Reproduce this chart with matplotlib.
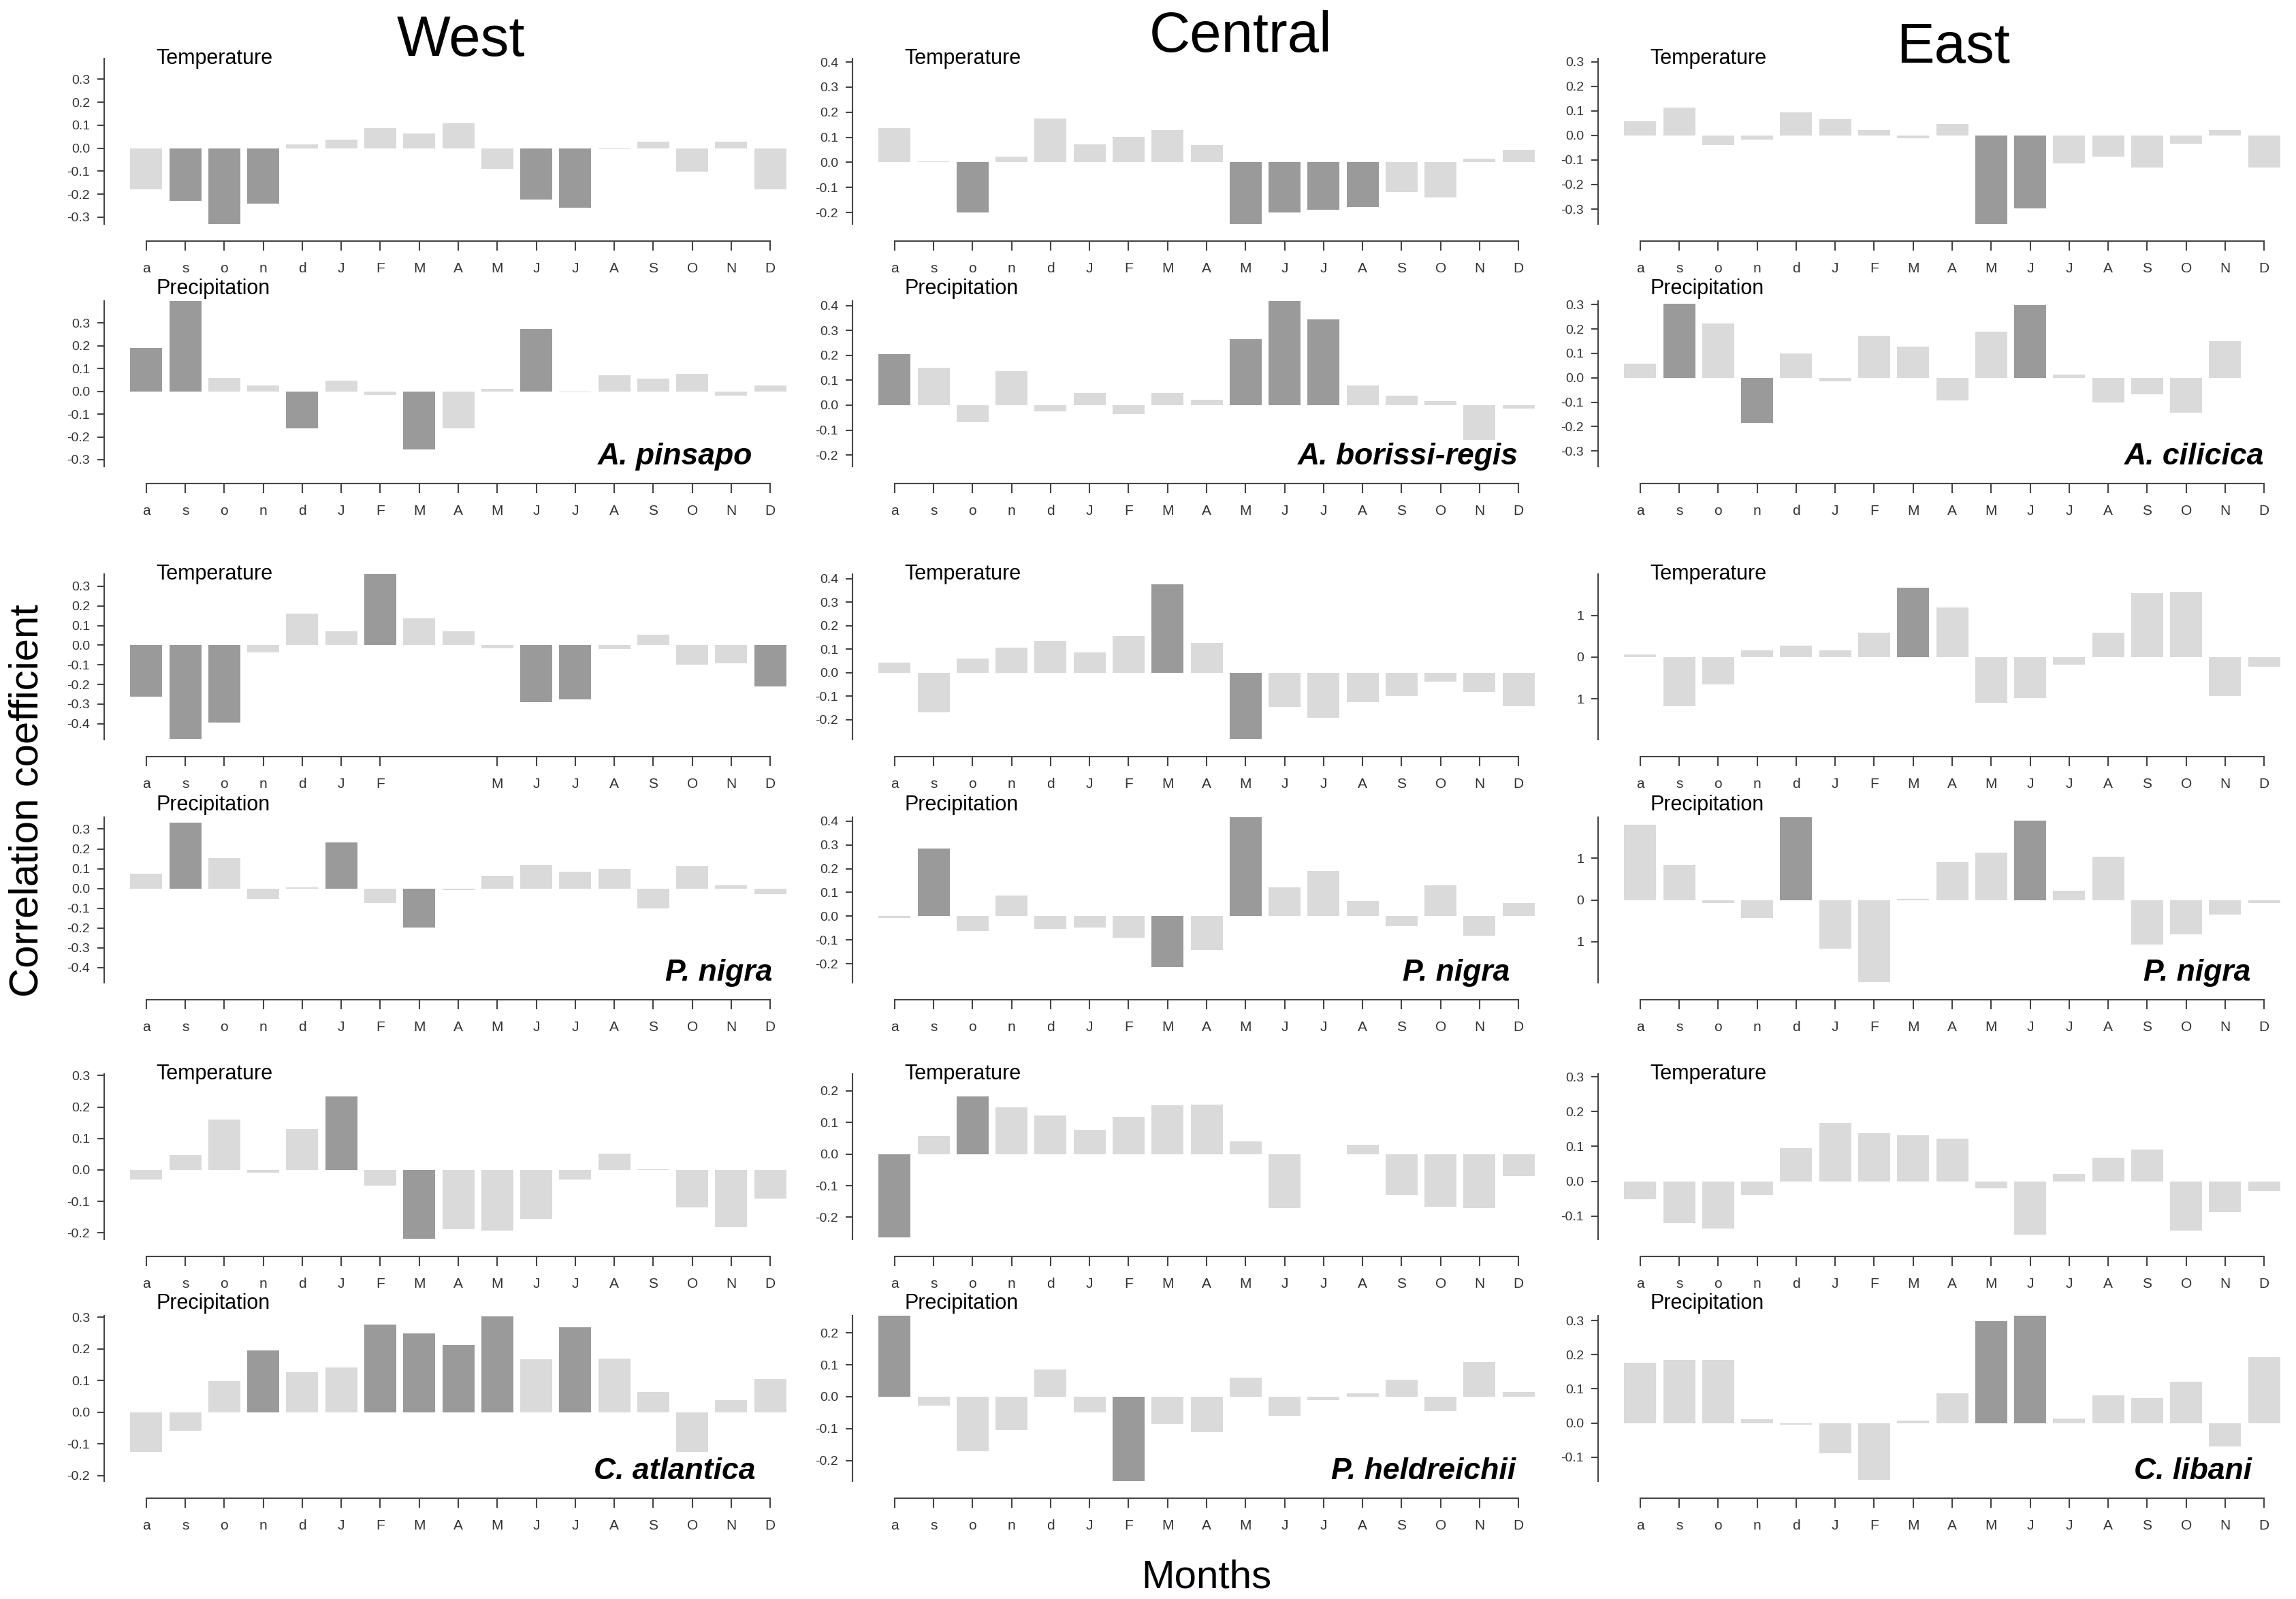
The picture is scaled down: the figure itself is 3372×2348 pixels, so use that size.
import matplotlib.pyplot as plt
import numpy as np

plt.rcParams['font.family'] = ['Liberation Sans', 'DejaVu Sans']
plt.rcParams['axes.unicode_minus'] = False

months = ['a', 's', 'o', 'n', 'd', 'J', 'F', 'M', 'A', 'M', 'J', 'J', 'A', 'S', 'O', 'N', 'D']
regions = ['West', 'Central', 'East']

# West
pinsapo_temp = [-0.18, -0.23, -0.33, -0.24, 0.017, 0.037, 0.089, 0.064, 0.11, -0.089, -0.223, -0.26, -0.005, 0.029, -0.102, 0.029, -0.179]
pinsapo_prec = [0.192, 0.41, 0.058, 0.026, -0.161, 0.046, -0.015, -0.256, -0.161, 0.011, 0.274, -0.005, 0.07, 0.055, 0.078, -0.02, 0.026]
nigra_w_temp = [-0.264, -0.476, -0.393, -0.036, 0.16, 0.07, 0.37, 0.136, 0.07, -0.015, -0.289, -0.277, -0.02, 0.053, -0.1, -0.092, -0.209]
nigra_w_prec = [0.073, 0.332, 0.153, -0.054, 0.005, 0.234, -0.073, -0.197, -0.008, 0.063, 0.119, 0.085, 0.098, -0.1, 0.114, 0.015, -0.03]
atlantica_temp = [-0.03, 0.048, 0.161, -0.008, 0.129, 0.234, -0.051, -0.219, -0.188, -0.193, -0.156, -0.03, 0.051, 0.003, -0.12, -0.182, -0.092]
atlantica_prec = [-0.125, -0.059, 0.098, 0.195, 0.127, 0.142, 0.277, 0.248, 0.213, 0.302, 0.167, 0.268, 0.17, 0.064, -0.125, 0.038, 0.105]

# Central
borissi_temp = [0.136, 0.004, -0.201, 0.023, 0.175, 0.073, 0.103, 0.129, 0.07, -0.247, -0.199, -0.19, -0.177, -0.118, -0.14, 0.014, 0.049]
borissi_prec = [0.205, 0.151, -0.068, 0.136, -0.025, 0.048, -0.036, 0.048, 0.023, 0.264, 0.42, 0.345, 0.079, 0.037, 0.016, -0.14, -0.014]
nigra_c_temp = [0.042, -0.17, 0.061, 0.107, 0.135, 0.085, 0.156, 0.375, 0.127, -0.282, -0.146, -0.193, -0.125, -0.101, -0.038, -0.082, -0.144]
nigra_c_prec = [-0.008, 0.285, -0.063, 0.086, -0.054, -0.048, -0.09, -0.214, -0.141, 0.418, 0.121, 0.19, 0.063, -0.041, 0.131, -0.082, 0.056]
heldreichii_temp = [-0.263, 0.058, 0.182, 0.148, 0.122, 0.076, 0.117, 0.153, 0.157, 0.039, -0.17, 0.0, 0.03, -0.13, -0.167, -0.17, -0.069]
heldreichii_prec = [0.26, -0.028, -0.171, -0.105, 0.086, -0.049, -0.266, -0.085, -0.111, 0.059, -0.061, -0.011, 0.011, 0.054, -0.045, 0.108, 0.015]

# East
cilicica_temp = [0.059, 0.113, -0.039, -0.017, 0.094, 0.065, 0.022, -0.011, 0.047, -0.362, -0.296, -0.115, -0.086, -0.13, -0.035, 0.022, -0.13]
cilicica_prec = [0.058, 0.304, 0.224, -0.186, 0.099, -0.014, 0.172, 0.128, -0.092, 0.19, 0.298, 0.014, -0.102, -0.069, -0.143, 0.15, 0.0]
nigra_e_temp = [0.006, -0.118, -0.066, 0.016, 0.027, 0.016, 0.059, 0.167, 0.119, -0.109, -0.098, -0.018, 0.058, 0.154, 0.156, -0.094, -0.023]
nigra_e_prec = [0.18, 0.084, -0.008, -0.043, 0.21, -0.116, -0.196, 0.003, 0.09, 0.113, 0.19, 0.022, 0.104, -0.106, -0.082, -0.035, -0.007]
libani_temp = [-0.052, -0.121, -0.136, -0.039, 0.095, 0.167, 0.138, 0.132, 0.122, -0.021, -0.154, 0.021, 0.067, 0.092, -0.142, -0.089, -0.028]
libani_prec = [0.177, 0.184, 0.184, 0.011, -0.004, -0.088, -0.166, 0.008, 0.086, 0.298, 0.32, 0.013, 0.08, 0.073, 0.12, -0.069, 0.193]

# significant months (index into months)
pinsapo_temp_sig = [1, 2, 3, 10, 11]
pinsapo_prec_sig = [0, 1, 4, 7, 10]
nigra_w_temp_sig = [0, 1, 2, 6, 10, 11, 16]
nigra_w_prec_sig = [1, 5, 7]
atlantica_temp_sig = [5, 7]
atlantica_prec_sig = [3, 6, 7, 8, 9, 11]
borissi_temp_sig = [2, 9, 10, 11, 12]
borissi_prec_sig = [0, 9, 10, 11]
nigra_c_temp_sig = [7, 9]
nigra_c_prec_sig = [1, 7, 9]
heldreichii_temp_sig = [0, 2]
heldreichii_prec_sig = [0, 6]
cilicica_temp_sig = [9, 10]
cilicica_prec_sig = [1, 3, 10]
nigra_e_temp_sig = [7]
nigra_e_prec_sig = [4, 10]
libani_temp_sig = []
libani_prec_sig = [9, 10]

light = '#dadada'
dark = '#9a9a9a'
axcol = '#444444'
txtcol = '#333333'

W, H = 3373, 2348
fig = plt.figure(figsize=(W / 100, H / 100), dpi=100)

col_left = [153, 1252, 2347]
ax_w = 1004
row_top = [86, 442, 843, 1200, 1577, 1932]
ax_h = 243

t3 = [-0.3, -0.2, -0.1, 0.0, 0.1, 0.2, 0.3]
t4 = [-0.2, -0.1, 0.0, 0.1, 0.2, 0.3, 0.4]
t34 = [-0.4, -0.3, -0.2, -0.1, 0.0, 0.1, 0.2, 0.3]
t32 = [-0.2, -0.1, 0.0, 0.1, 0.2, 0.3]
t22 = [-0.2, -0.1, 0.0, 0.1, 0.2]
t31 = [-0.1, 0.0, 0.1, 0.2, 0.3]
t1 = [-0.1, 0.0, 0.1]


def panel(col, row, vals, sig, ticks, ylim, label, name=None, name_x=16.0,
          ticklabels=None, skip=()):
    ax = fig.add_axes([col_left[col] / W, 1 - (row_top[row] + ax_h) / H,
                       ax_w / W, ax_h / H])
    x = np.arange(len(months))
    colors = [dark if i in sig else light for i in range(len(vals))]
    ax.bar(x, vals, width=0.82, color=colors, linewidth=0)
    ax.set_xlim(-1.08, 16.45)
    ax.set_ylim(*ylim)

    for s in ['top', 'right']:
        ax.spines[s].set_visible(False)
    ax.spines['left'].set_color(axcol)
    ax.spines['left'].set_linewidth(1.5)
    ax.spines['bottom'].set_color(axcol)
    ax.spines['bottom'].set_linewidth(1.5)
    ax.spines['bottom'].set_position(('outward', 18))
    ax.spines['bottom'].set_bounds(0, 16)

    keep = [i for i in x if i not in skip]
    ax.set_xticks(keep)
    ax.set_xticklabels([months[i] for i in keep])
    ax.set_yticks(ticks)
    if ticklabels is None:
        ticklabels = ['%.1f' % t for t in ticks]
    ax.set_yticklabels(ticklabels)
    ax.tick_params(axis='x', length=10, width=1.5, color=axcol, pad=12,
                   labelsize=15, labelcolor=txtcol)
    ax.tick_params(axis='y', length=7, width=1.5, color=axcol, pad=8,
                   labelsize=14, labelcolor=txtcol)

    ty = 1.0 if label == 'Temperature' else 1.075
    ax.text(0.25, ty, label, transform=ax.get_xaxis_transform(),
            ha='left', va='center', fontsize=22)
    if name:
        ax.text(name_x, 0.06, name, transform=ax.get_xaxis_transform(),
                ha='right', va='center', fontsize=32, fontweight='bold',
                fontstyle='italic')
    return ax


# West
panel(0, 0, pinsapo_temp, pinsapo_temp_sig, t3, (-0.33, 0.39), 'Temperature')
panel(0, 1, pinsapo_prec, pinsapo_prec_sig, t3, (-0.33, 0.397), 'Precipitation', 'A. pinsapo', 15.55)
panel(0, 2, nigra_w_temp, nigra_w_temp_sig, t34, (-0.481, 0.362), 'Temperature', skip=(7, 8))
panel(0, 3, nigra_w_prec, nigra_w_prec_sig, t34, (-0.476, 0.36), 'Precipitation', 'P. nigra', 16.05)
panel(0, 4, atlantica_temp, atlantica_temp_sig, t32, (-0.221, 0.305), 'Temperature')
panel(0, 5, atlantica_prec, atlantica_prec_sig, t32, (-0.218, 0.305), 'Precipitation', 'C. atlantica', 15.62)

# Central
panel(1, 0, borissi_temp, borissi_temp_sig, t4, (-0.246, 0.414), 'Temperature')
panel(1, 1, borissi_prec, borissi_prec_sig, t4, (-0.246, 0.418), 'Precipitation', 'A. borissi-regis', 16.0)
panel(1, 2, nigra_c_temp, nigra_c_temp_sig, t4, (-0.285, 0.419), 'Temperature')
panel(1, 3, nigra_c_prec, nigra_c_prec_sig, t4, (-0.279, 0.416), 'Precipitation', 'P. nigra', 15.78)
panel(1, 4, heldreichii_temp, heldreichii_temp_sig, t22, (-0.27, 0.253), 'Temperature')
panel(1, 5, heldreichii_prec, heldreichii_prec_sig, t22, (-0.265, 0.254), 'Precipitation', 'P. heldreichii', 15.93)

# East
panel(2, 0, cilicica_temp, cilicica_temp_sig, t3, (-0.361, 0.313), 'Temperature')
panel(2, 1, cilicica_prec, cilicica_prec_sig, t3, (-0.364, 0.315), 'Precipitation', 'A. cilicica', 16.0)
panel(2, 2, nigra_e_temp, nigra_e_temp_sig, t1, (-0.198, 0.199), 'Temperature',
      ticklabels=['1', '0', '1'])
panel(2, 3, nigra_e_prec, nigra_e_prec_sig, t1, (-0.198, 0.198), 'Precipitation', 'P. nigra', 15.65,
      ticklabels=['1', '0', '1'])
panel(2, 4, libani_temp, libani_temp_sig, t31, (-0.167, 0.308), 'Temperature')
panel(2, 5, libani_prec, libani_prec_sig, t31, (-0.17, 0.314), 'Precipitation', 'C. libani', 15.69)

# column titles and axis titles
title_x = [677, 1822, 2869]
title_y = [82, 76, 92]
for name, tx, ty in zip(regions, title_x, title_y):
    fig.text(tx / W, 1 - ty / H, name, ha='center', va='baseline', fontsize=60)

fig.text(40 / W, 1 - 1176 / H, 'Correlation coefficient', rotation=90,
         ha='center', va='center', fontsize=43)
fig.text(1772 / W, 1 - 2316 / H, 'Months', ha='center', va='center', fontsize=42)

fig.savefig('out.png', dpi=100)
